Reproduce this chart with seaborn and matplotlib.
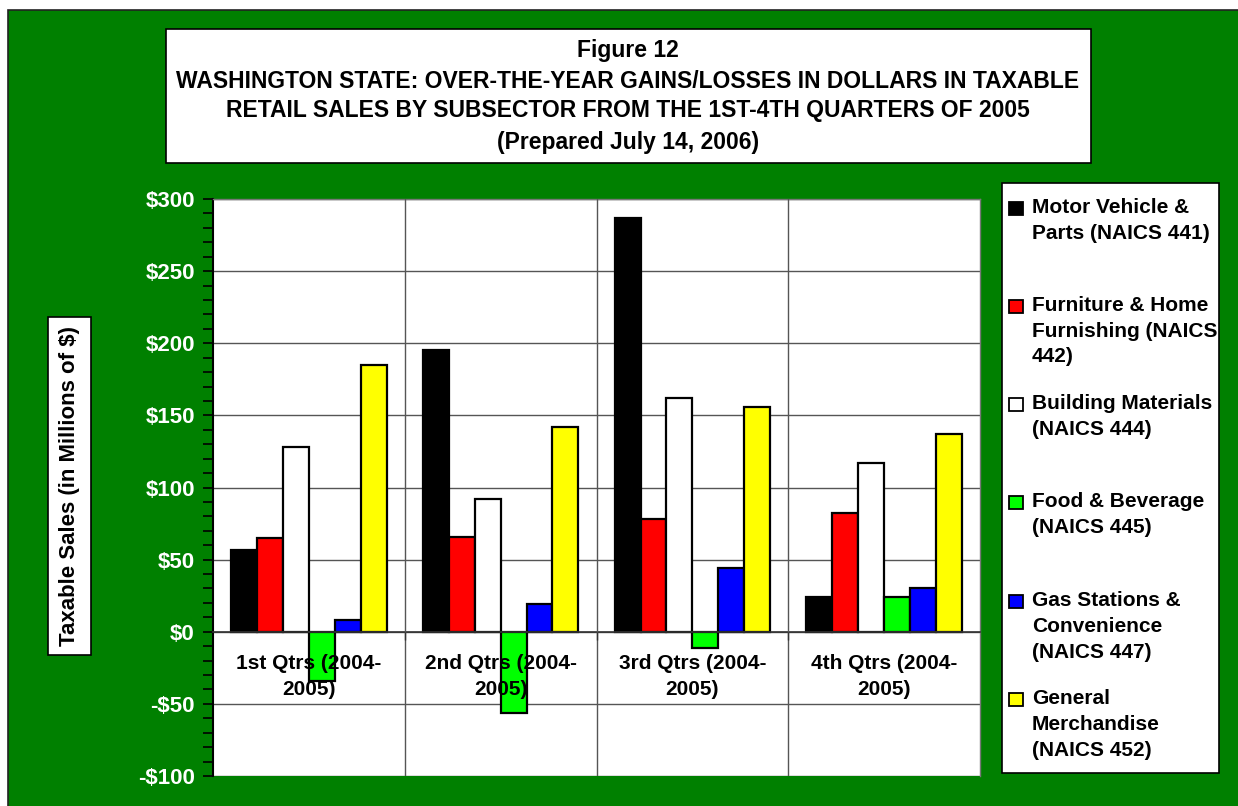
import matplotlib
matplotlib.use("Agg")
import matplotlib.pyplot as plt
import seaborn as sns
import pandas as pd
import numpy as np
from matplotlib.patches import Rectangle
from matplotlib.ticker import MultipleLocator, FuncFormatter, FixedLocator

# ---- data ----
quarters = ["1st Qtrs (2004-\n2005)", "2nd Qtrs (2004-\n2005)",
            "3rd Qtrs (2004-\n2005)", "4th Qtrs (2004-\n2005)"]
sectors = ["Motor Vehicle &\nParts (NAICS 441)",
           "Furniture & Home\nFurnishing (NAICS\n442)",
           "Building Materials\n(NAICS 444)",
           "Food & Beverage\n(NAICS 445)",
           "Gas Stations &\nConvenience\n(NAICS 447)",
           "General\nMerchandise\n(NAICS 452)"]
motor_vehicle = [57, 195, 287, 24]
furniture = [65, 66, 78, 82]
building = [128, 92, 162, 117]
food_bev = [-34, -56, -11, 24]
gas_stations = [8, 19, 44, 30]
general_merch = [185, 142, 156, 137]
colors = ["#000000", "#FF0000", "#FFFFFF", "#00FF00", "#0000FF", "#FFFF00"]

title_lines = ["Figure 12",
               "WASHINGTON STATE: OVER-THE-YEAR GAINS/LOSSES IN DOLLARS IN TAXABLE",
               "RETAIL SALES BY SUBSECTOR FROM THE 1ST-4TH QUARTERS OF 2005",
               "(Prepared July 14, 2006)"]
ylabel = "Taxable Sales (in Millions of $)"

series = [motor_vehicle, furniture, building, food_bev, gas_stations, general_merch]
rows = []
for s, vals in zip(sectors, series):
    for q, v in zip(quarters, vals):
        rows.append({"quarter": q, "sector": s, "value": v})
df = pd.DataFrame(rows)

sns.set_theme(style="white")
plt.rcParams['font.family'] = ['Liberation Sans', 'DejaVu Sans']
plt.rcParams['font.weight'] = 'bold'

W, H = 1238, 806
fig = plt.figure(figsize=(W / 100, H / 100), dpi=100)
fig.patch.set_facecolor("white")

def fx(px):
    return px / W

def fy(py):
    return 1 - py / H

# outer green area
fig.patches.append(Rectangle((fx(8), fy(900)), 1.2, fy(10) - fy(900),
                             transform=fig.transFigure, facecolor="#008000",
                             edgecolor="#222222", linewidth=1.2, zorder=-10))

# title box
fig.patches.append(Rectangle((fx(166), fy(163)), fx(1091) - fx(166), fy(29) - fy(163),
                             transform=fig.transFigure, facecolor="white",
                             edgecolor="black", linewidth=1.2, zorder=1))
for yy, line in zip([50, 81, 111, 142], title_lines):
    fig.text(fx(628), fy(yy), line, ha="center", va="center", fontsize=16.5,
             fontweight="bold", color="black", zorder=2)

# axes
ax = fig.add_axes([fx(213), fy(776), fx(980) - fx(213), fy(199) - fy(776)])
ax.set_zorder(1)
sns.barplot(data=df, x="quarter", y="value", hue="sector", order=quarters,
            hue_order=sectors, palette=colors, saturation=1, width=0.81,
            edgecolor="black", linewidth=1.6, legend=False, ax=ax, zorder=2)

ax.set_facecolor("white")
ax.set_ylim(-100, 300)
ax.set_xlim(-0.5, 3.5)
ax.yaxis.set_major_locator(MultipleLocator(50))
ax.yaxis.set_minor_locator(MultipleLocator(10))
ax.yaxis.set_major_formatter(FuncFormatter(lambda v, p: f"-${abs(int(v))}" if v < 0 else f"${int(v)}"))
ax.xaxis.set_minor_locator(FixedLocator([0.5, 1.5, 2.5]))
ax.set_axisbelow(True)
ax.grid(True, which="major", axis="y", color="#555555", linewidth=1.0)
ax.grid(True, which="minor", axis="x", color="#555555", linewidth=1.0)
ax.grid(False, which="major", axis="x")
ax.xaxis.set_zorder(3)  # category labels drawn over the bars, as in the original

ax.spines["bottom"].set_position(("data", 0))
ax.spines["bottom"].set_color("#333333")
ax.spines["bottom"].set_linewidth(1.2)
for side in ["top", "right"]:
    ax.spines[side].set_color("#777777")
    ax.spines[side].set_linewidth(1.0)
ax.spines["left"].set_color("black")
ax.spines["left"].set_linewidth(1.5)

ax.tick_params(axis="y", which="both", left=True, direction="out", color="black",
               width=1.2, labelcolor="white", labelsize=16, pad=6)
ax.tick_params(axis="y", which="major", length=7)
ax.tick_params(axis="y", which="minor", length=7)
ax.tick_params(axis="x", which="major", bottom=False, length=0, pad=16,
               labelsize=15, labelcolor="black")
ax.tick_params(axis="x", which="minor", bottom=True, length=6, width=1.0,
               direction="out", color="#333333")
for lab in ax.get_yticklabels():
    lab.set_fontweight("bold")
for lab in ax.get_xticklabels():
    lab.set_fontweight("bold")
    lab.set_linespacing(1.45)
ax.set_xlabel("")
ax.set_ylabel("")

# y label in a box
fig.patches.append(Rectangle((fx(48), fy(655)), fx(91) - fx(48), fy(317) - fy(655),
                             transform=fig.transFigure, facecolor="white",
                             edgecolor="black", linewidth=1.2, zorder=1))
fig.text(fx(70), fy(486), ylabel, rotation=90, ha="center", va="center",
         fontsize=16, fontweight="bold", color="black", zorder=2)

# legend box
fig.patches.append(Rectangle((fx(1002), fy(773)), fx(1219) - fx(1002), fy(183) - fy(773),
                             transform=fig.transFigure, facecolor="white",
                             edgecolor="black", linewidth=1.2, zorder=1))
entry_y = [208, 306, 404, 502, 601, 699]
for yy, lab, c in zip(entry_y, sectors, colors):
    fig.patches.append(Rectangle((fx(1009), fy(yy + 7)), fx(14), 13 / H,
                                 transform=fig.transFigure, facecolor=c,
                                 edgecolor="black", linewidth=1.3, zorder=2))
    fig.text(fx(1032), fy(yy - 10), lab, ha="left", va="top", fontsize=15,
             fontweight="bold", color="black", linespacing=1.45, zorder=3)

fig.savefig("out.png", dpi=100)
